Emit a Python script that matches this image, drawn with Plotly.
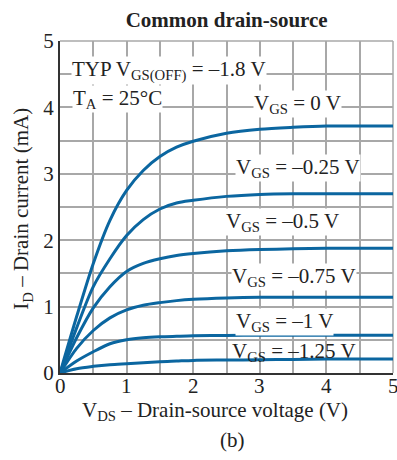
import plotly.graph_objects as go

vds = [0, 0.25, 0.5, 0.75, 1.0, 1.25, 1.5, 1.75, 2.0, 2.5, 3.0, 3.5, 4.0, 4.5, 5.0]
id_vgs_0 = [0, 0.85, 1.65, 2.3, 2.75, 3.05, 3.26, 3.40, 3.49, 3.61, 3.67, 3.70, 3.72, 3.72, 3.72]
id_vgs_m025 = [0, 0.68, 1.3, 1.72, 2.07, 2.31, 2.47, 2.56, 2.6, 2.66, 2.69, 2.70, 2.70, 2.70, 2.70]
id_vgs_m05 = [0, 0.53, 0.98, 1.3, 1.53, 1.65, 1.72, 1.77, 1.8, 1.84, 1.86, 1.87, 1.88, 1.88, 1.88]
id_vgs_m075 = [0, 0.37, 0.64, 0.83, 0.95, 1.02, 1.06, 1.09, 1.11, 1.13, 1.14, 1.14, 1.14, 1.14, 1.14]
id_vgs_m1 = [0, 0.18, 0.32, 0.44, 0.50, 0.53, 0.545, 0.553, 0.56, 0.565, 0.57, 0.57, 0.57, 0.57, 0.57]
id_vgs_m125 = [0, 0.065, 0.10, 0.125, 0.14, 0.155, 0.17, 0.18, 0.19, 0.195, 0.20, 0.205, 0.21, 0.21, 0.21]

curves = [id_vgs_0, id_vgs_m025, id_vgs_m05, id_vgs_m075, id_vgs_m1, id_vgs_m125]
labels = ["V<sub>GS</sub> = 0 V", "V<sub>GS</sub> = –0.25 V", "V<sub>GS</sub> = –0.5 V",
          "V<sub>GS</sub> = –0.75 V", "V<sub>GS</sub> = –1 V", "V<sub>GS</sub> = –1.25 V"]
label_x = [3.56, 3.58, 3.34, 3.52, 3.37, 3.52]
label_y = [4.05, 3.09, 2.27, 1.45, 0.77, 0.32]
label_bg = ["white", "white", "white", "white", "white", "rgba(0,0,0,0)"]

tick_vals = [0, 1, 2, 3, 4, 5]
tick_text = ["0", "1", "2", "3", "4", "5"]

BLUE = "#0b66a0"
TXT = "#222222"
GRID = "#a8a8a8"
FONT = "Liberation Serif"
FS = 21

fig = go.Figure()
for ys in curves:
    fig.add_trace(go.Scatter(x=vds, y=ys, mode="lines",
                             line=dict(color=BLUE, width=3, shape="spline", smoothing=0.85),
                             showlegend=False, hoverinfo="skip", cliponaxis=False))

for t, x, y, bg in zip(labels, label_x, label_y, label_bg):
    fig.add_annotation(x=x, y=y, text=t, showarrow=False, bgcolor=bg,
                       font=dict(family=FONT, size=FS, color=TXT), borderpad=0)

fig.add_annotation(x=0.16, y=4.56, text="TYP V<sub>GS(OFF)</sub> = –1.8 V", showarrow=False,
                   xanchor="left", bgcolor="white",
                   font=dict(family=FONT, size=FS, color=TXT), borderpad=0)
fig.add_annotation(x=0.18, y=4.12, text="T<sub>A</sub> = 25°C", showarrow=False, xanchor="left",
                   bgcolor="white", font=dict(family=FONT, size=FS, color=TXT), borderpad=0)

# x tick labels (drawn as annotations so the last one may run off the page edge like the original)
for v, t in zip(tick_vals, tick_text):
    fig.add_annotation(x=v, y=-0.039, xref="x", yref="paper", yanchor="middle",
                       text=t, showarrow=False, font=dict(family=FONT, size=FS, color=TXT))

# axis titles and caption
fig.add_annotation(x=0.465, y=-0.114, xref="paper", yref="paper", yanchor="middle",
                   text="V<sub>DS</sub> – Drain-source voltage (V)", showarrow=False,
                   font=dict(family=FONT, size=FS, color=TXT))
fig.add_annotation(x=-0.114, y=0.495, xref="paper", yref="paper", xanchor="center", yanchor="middle",
                   textangle=-90, text="I<sub>D</sub> – Drain current (mA)", showarrow=False,
                   font=dict(family=FONT, size=FS, color=TXT))
fig.add_annotation(x=0.517, y=-0.202, xref="paper", yref="paper", yanchor="middle",
                   text="(b)", showarrow=False, font=dict(family=FONT, size=FS, color=TXT))

# top / right frame lines (grid colour)
fig.add_shape(type="line", xref="paper", yref="paper", x0=0, x1=1, y0=1, y1=1,
              line=dict(color=GRID, width=1.5), layer="below")
fig.add_shape(type="line", xref="paper", yref="paper", x0=1, x1=1, y0=0, y1=1,
              line=dict(color=GRID, width=1.5), layer="below")

axis_common = dict(range=[0, 5], tickvals=tick_vals, ticktext=tick_text, ticks="", showgrid=True,
                   gridcolor=GRID, gridwidth=1.5, automargin=False,
                   minor=dict(dtick=0.5, showgrid=True, gridcolor=GRID, gridwidth=1.5),
                   showline=True, linecolor="#333333", linewidth=2, zeroline=False,
                   tickfont=dict(family=FONT, size=FS, color=TXT))

fig.update_layout(
    width=397, height=460,
    margin=dict(l=60, r=4, t=41, b=87, autoexpand=False),
    paper_bgcolor="white", plot_bgcolor="white",
    title=dict(text="<b>Common drain-source</b>", x=0.571, xanchor="center", y=0.958, yanchor="middle",
               font=dict(family=FONT, size=FS, color=TXT)),
    xaxis=dict(**axis_common, showticklabels=False),
    yaxis=dict(**axis_common, ticklabelstandoff=0),
)

fig.write_html("out.html", config={"displayModeBar": False},
               post_script="document.documentElement.style.margin='0';document.body.style.margin='0';"
                           "document.body.style.overflow='hidden';")
